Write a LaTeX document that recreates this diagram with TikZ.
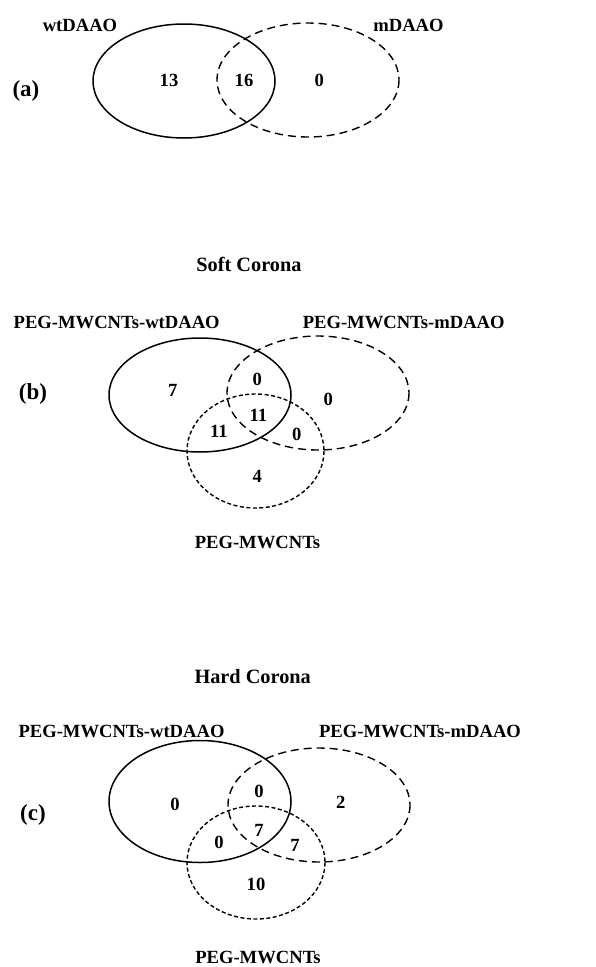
\documentclass[tikz,border=0pt]{standalone}
\usepackage{fontspec}
\setmainfont{Liberation Serif}
\usetikzlibrary{positioning}

\begin{document}
\begin{tikzpicture}[x=1pt, y=-1pt,
    setwt/.style={line width=1.5pt},
    setm/.style={line width=1.4pt, dash pattern=on 8pt off 5pt},
    setpeg/.style={line width=1.4pt, dash pattern=on 4pt off 2.5pt},
    lbl/.style={anchor=base, inner sep=0pt, font=\fontsize{18.6}{22}\selectfont\bfseries},
    head/.style={lbl, font=\fontsize{20.3}{24}\selectfont\bfseries},
    tag/.style={lbl, font=\fontsize{23}{27}\selectfont\bfseries}]
    \fill[white] (0,0) rectangle (595,967);
    \useasboundingbox (0,0) rectangle (595,967);

    % (a)
    \draw[setwt] (184,81) ellipse [x radius=91, y radius=57];
    \draw[setm] (308,80) ellipse [x radius=91, y radius=57];
    \node[lbl] (awt) at (80,31.7) {wtDAAO};
    \node[lbl] (am) at (408.5,31.7) {mDAAO};
    \node[tag] (atag) at (26,96) {(a)};
    \node[lbl] (a1) at (169,86) {13};
    \node[lbl] (a2) at (244,86) {16};
    \node[lbl] (a3) at (319.3,86) {0};

    % (b) soft corona
    \node[head] (soft) at (249,271) {Soft Corona};
    \draw[setwt] (200,395) ellipse [x radius=91, y radius=57];
    \draw[setm] (318,393) ellipse [x radius=91, y radius=57];
    \draw[setpeg] (255.5,451) ellipse [x radius=68.5, y radius=57];
    \node[lbl] (bwt) at (116.7,328.3) {PEG-MWCNTs-wtDAAO};
    \node[lbl] (bm) at (403.7,328.3) {PEG-MWCNTs-mDAAO};
    \node[lbl] (bpeg) at (257.5,548) {PEG-MWCNTs};
    \node[tag] (btag) at (33,399) {(b)};
    \node[lbl] (b1) at (172.7,396.7) {7};
    \node[lbl] (b2) at (257.3,385) {0};
    \node[lbl] (b3) at (328.3,405) {0};
    \node[lbl] (b4) at (258.3,421.7) {11};
    \node[lbl] (b5) at (219,437.7) {11};
    \node[lbl] (b6) at (296.7,440.7) {0};
    \node[lbl] (b7) at (257.3,482) {4};

    % (c) hard corona
    \node[head] (hard) at (252.7,683.3) {Hard Corona};
    \draw[setwt] (200,801.5) ellipse [x radius=91, y radius=61];
    \draw[setm] (319,805) ellipse [x radius=91, y radius=57];
    \draw[setpeg] (256,862.5) ellipse [x radius=69, y radius=56.5];
    \node[lbl] (cwt) at (121.5,737.3) {PEG-MWCNTs-wtDAAO};
    \node[lbl] (cm) at (420,737.3) {PEG-MWCNTs-mDAAO};
    \node[lbl] (cpeg) at (258,963) {PEG-MWCNTs};
    \node[tag] (ctag) at (33,820) {(c)};
    \node[lbl] (c1) at (175,810) {0};
    \node[lbl] (c2) at (259,797) {0};
    \node[lbl] (c3) at (340.7,808) {2};
    \node[lbl] (c4) at (259,836.7) {7};
    \node[lbl] (c5) at (219,848) {0};
    \node[lbl] (c6) at (295,851.7) {7};
    \node[lbl] (c7) at (256,890.7) {10};
\end{tikzpicture}
\end{document}
